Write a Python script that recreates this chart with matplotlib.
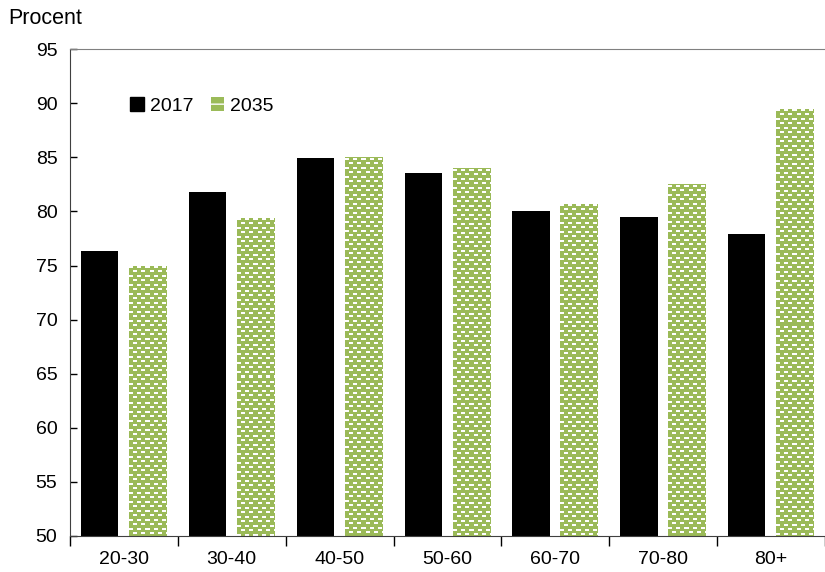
#!/usr/bin/env python3
"""Share by age group, 2017 vs 2035 (Procent)."""

import numpy as np
import matplotlib
matplotlib.use('Agg')
import matplotlib.pyplot as plt
from matplotlib.patches import Patch
from matplotlib.ticker import FixedLocator

groups = ['20-30', '30-40', '40-50', '50-60', '60-70', '70-80', '80+']
vals_2017 = [76.3, 81.8, 84.9, 83.6, 80.0, 79.5, 77.9]
vals_2035 = [75.0, 79.4, 85.0, 84.0, 80.7, 82.5, 89.5]
yticks = [50, 55, 60, 65, 70, 75, 80, 85, 90, 95]

GREEN = (0.608, 0.733, 0.349)

plt.rcParams['font.family'] = ['Liberation Sans', 'DejaVu Sans']


def dash_pattern(w, h):
    # green fill with staggered white dashes
    img = np.ones((h, w, 3)) * np.array(GREEN)
    for r in range(h):
        k = r % 9
        if k in (1, 2, 5, 6):
            shift = 0 if k in (1, 2) else 4
            for c in range(w):
                if (c + shift) % 8 < 4:
                    img[r, c] = 1.0
    return img


fig = plt.figure(figsize=(8.25, 5.72), dpi=100)
ax = fig.add_axes([0.0848, 0.063, 0.9152, 0.851])

x = np.arange(len(groups))
ax.bar(x - 0.225, vals_2017, 0.345, color='black', zorder=2)
bars = ax.bar(x + 0.22, vals_2035, 0.345, color=GREEN, zorder=2)

ax.set_xlim(-0.5, 6.5)
ax.set_ylim(50, 95)

# patterned fill for 2035 bars
ybot = ax.get_ylim()[0]
for b in bars:
    x0, x1 = b.get_x(), b.get_x() + b.get_width()
    y1 = b.get_height()
    (px0, py0), (px1, py1) = ax.transData.transform([(x0, ybot), (x1, y1)])
    w = max(1, int(round(px1 - px0)))
    h = max(1, int(round(py1 - py0)))
    im = ax.imshow(dash_pattern(w, h), extent=(x0, x1, ybot, y1),
                   aspect='auto', interpolation='nearest', zorder=2.5)
    im.set_clip_path(b)

ax.set_xlim(-0.5, 6.5)
ax.set_ylim(50, 95)

ax.set_yticks(yticks)
ax.tick_params(axis='y', direction='in', length=5, width=1, labelsize=14, pad=9)
ax.set_xticks(x)
ax.set_xticklabels(groups)
ax.xaxis.set_minor_locator(FixedLocator(np.arange(-0.5, 7.0, 1.0)))
ax.tick_params(axis='x', which='major', length=0, labelsize=14, pad=11)
ax.tick_params(axis='x', which='minor', direction='out', length=7, width=1)

ax.spines['right'].set_visible(False)
ax.spines['top'].set_color('#808080')
ax.spines['left'].set_color('#404040')
ax.spines['bottom'].set_color('#404040')

handles = [Patch(facecolor='black', edgecolor='black'),
           Patch(facecolor=GREEN, edgecolor='white', hatch='--', linewidth=0)]
ax.legend(handles, ['2017', '2035'], ncol=2, frameon=False, fontsize=14,
          loc='center', bbox_to_anchor=(0.175, 0.883),
          handlelength=0.7, handleheight=0.7, handletextpad=0.3,
          columnspacing=0.9)

fig.text(0.01, 0.968, 'Procent', fontsize=15.5, va='center', ha='left')

plt.savefig('out.png', dpi=100)
plt.close()
